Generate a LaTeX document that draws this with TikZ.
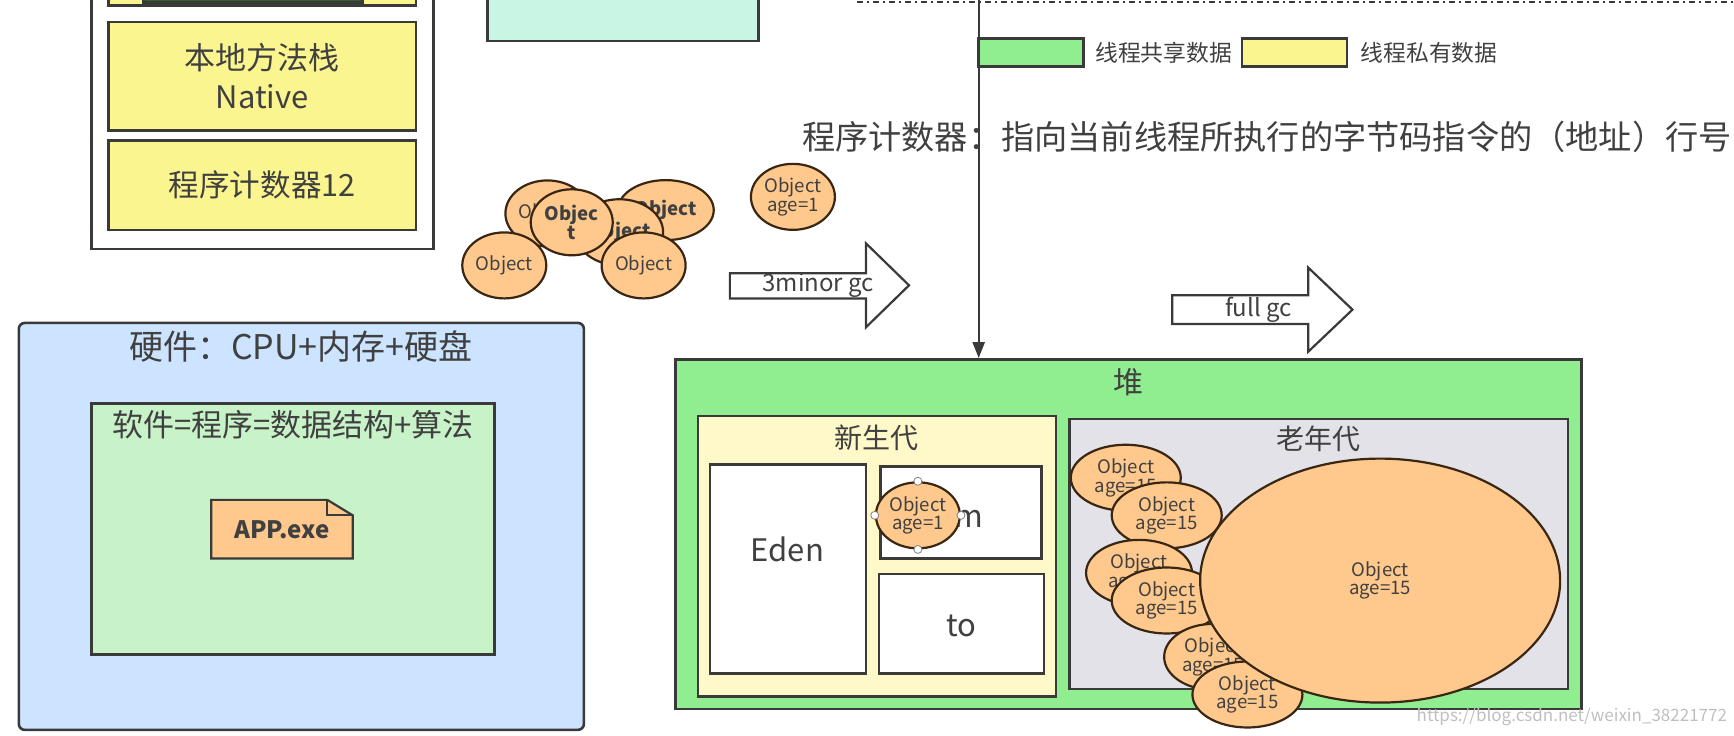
\documentclass[tikz,border=0pt]{standalone}
\usepackage{fontspec}
\setmainfont{Noto Sans CJK SC}
\usetikzlibrary{shapes.geometric,fit,arrows.meta}
\definecolor{gr}{HTML}{90EE90}
\definecolor{ye}{HTML}{FAF58E}
\definecolor{pye}{HTML}{FFF8C8}
\definecolor{og}{HTML}{E2E2E8}
\definecolor{hb}{HTML}{CCE4FF}
\definecolor{sg}{HTML}{C8F2C8}
\definecolor{tl}{HTML}{C8F5E4}
\definecolor{pch}{HTML}{FFC98E}
\definecolor{ln}{HTML}{3A3A3A}
\definecolor{tx}{HTML}{404040}
\newcommand{\fs}[1]{\fontsize{#1}{#1}\selectfont}
\tikzset{
 box/.style={draw=ln,line width=1.3pt,inner sep=0pt},
 obj/.style={ellipse,draw=black!70!brown,line width=1.1pt,fill=pch,inner sep=0pt,align=center,font=\fs{9.3},text=tx},
 lbl/.style={text=tx,inner sep=0pt,align=center},
 barrow/.style={draw=ln,line width=1.1pt,fill=white}
}
\newcommand{\rx}[6]{\node[box,fill=#1,fit={(#3,#4)(#5,#6)}] (#2) {};}
\begin{document}
\begin{tikzpicture}[x=0.553pt,y=-0.553pt]
\useasboundingbox (0,0) rectangle (1568,665);
% top-left stack
\rx{white}{stack}{83}{-8}{392}{225}
\rx{ye}{ytop}{98}{-8}{376}{5}
\rx{ln!80!green}{bar}{130}{-8}{328}{2}
\rx{ye}{native}{98}{20}{376}{118}
\node[lbl,font=\fs{15.5},align=center] at (native.center) {本地方法栈\\[4pt]Native};
\rx{ye}{pcbox}{98}{127}{376}{208}
\node[lbl,font=\fs{15.3}] at (pcbox.center) {程序计数器12};
\rx{tl}{teal}{441}{-8}{686}{37}
% dash-dot line
\coordinate (dl) at (775,2); \coordinate (dr) at (1568,2);
\draw[ln,line width=1pt,dash dot] (dl) -- (dr);
% legend
\rx{gr}{lg}{885}{35}{980}{60}
\node[lbl,anchor=west,font=\fs{11.4}] at (990,48) {线程共享数据};
\rx{ye}{ly}{1123}{35}{1218}{60}
\node[lbl,anchor=west,font=\fs{11.4}] at (1230,48) {线程私有数据};
\node[lbl,anchor=west,font=\fs{16.6}] (pcnote) at (725,124) {程序计数器：指向当前线程所执行的字节码指令的（地址）行号};
% cluster
\node[obj,minimum width=42pt,minimum height=33pt] (oA) at (495,193) {Object};
\node[obj,minimum width=48pt,minimum height=30pt,font=\fs{9.3}\bfseries] (oB) at (602,190) {Object};
\node[obj,minimum width=42pt,minimum height=33pt,font=\fs{9.3}\bfseries] (oC) at (560,210) {Object};
\node[obj,minimum width=41pt,minimum height=33pt,font=\fs{9.3}\bfseries] (oD) at (517,201) {Objec\\t};
\node[obj,minimum width=42pt,minimum height=33pt] (oE) at (456,240) {Object};
\node[obj,minimum width=42pt,minimum height=33pt] (oF) at (582,240) {Object};
\node[obj,minimum width=42pt,minimum height=33pt] (oG) at (717,178) {Object\\age=1};
% block arrows
\draw[barrow] (660,247) -- (783,247) -- (783,220) -- (822,258) -- (783,296) -- (783,270) -- (660,270) -- cycle;
\node[lbl,font=\fs{12}] (minor) at (740,258) {3minor gc};
\draw[barrow] (1060,267) -- (1183,267) -- (1183,242) -- (1223,280) -- (1183,318) -- (1183,293) -- (1060,293) -- cycle;
\node[lbl,font=\fs{12}] (full) at (1138,280) {full gc};
% hardware
\node[box,fill=hb,rounded corners=3pt,fit={(17,292)(528,660)}] (hw) {};
\node[lbl,font=\fs{17}] at (272,313) {硬件：CPU+内存+硬盘};
\rx{sg}{sw}{83}{365}{447}{592}
\node[lbl,font=\fs{15.5}] at (265,384) {软件=程序=数据结构+算法};
\draw[ln,line width=1.1pt,fill=pch] (191,452) -- (296,452) -- (319,466) -- (319,505) -- (191,505) -- cycle;
\draw[ln,line width=1.1pt] (296,452) -- (296,466) -- (319,466);
\node[lbl,font=\fs{12}\bfseries] (app) at (255,479) {APP.exe};
% heap
\rx{gr}{heap}{611}{325}{1430}{641}
\node[lbl,font=\fs{15}] at (1020,346) {堆};
\coordinate (vt) at (885,-5);
\draw[ln,line width=1.1pt,-{Triangle[length=8pt,width=6pt]}] (vt) -- (vt |- heap.north);
\rx{pye}{young}{631}{376}{955}{630}
\node[lbl,font=\fs{14}] at (793,396) {新生代};
\rx{white}{eden}{642}{420}{783}{609}
\node[lbl,font=\fs{15.5}] at (712,497) {Eden};
\rx{white}{from}{796}{422}{942}{505}
\node[lbl,font=\fs{15.5}] at (858,466) {from};
\rx{white}{to}{795}{519}{944}{609}
\node[lbl,font=\fs{15.5}] at (869,566) {to};
\node[obj,minimum width=42pt,minimum height=33pt] (oH) at (830,466) {Object\\age=1};
\foreach \a in {north,south,east,west} \draw[gray,fill=white] (oH.\a) circle (2pt);
\rx{og}{old}{967}{379}{1418}{623}
\node[lbl,font=\fs{14}] at (1192,397) {老年代};
\node[obj,minimum width=55pt,minimum height=33pt] (p1) at (1018,432) {Object\\age=15};
\node[obj,minimum width=55pt,minimum height=33pt] (p2) at (1055,466) {Object\\age=15};
\node[obj,minimum width=53pt,minimum height=33pt] (p3) at (1030,518) {Object\\age=15};
\node[obj,minimum width=55pt,minimum height=33pt] (p4) at (1055,543) {Object\\age=15};
\node[obj,minimum width=49pt,minimum height=33pt] (p5) at (1097,594) {Object\\age=15};
\node[obj,minimum width=55pt,minimum height=33pt] (p6) at (1128,628) {Object\\age=15};
\node[obj,minimum width=180pt,minimum height=122pt] (big) at (1248,525) {Object\\age=15};
\node[lbl,text=gray!50,font=\fs{8.5},anchor=east] (wm) at (1562,648) {https://blog.csdn.net/weixin\_38221772};
\end{tikzpicture}
\end{document}
